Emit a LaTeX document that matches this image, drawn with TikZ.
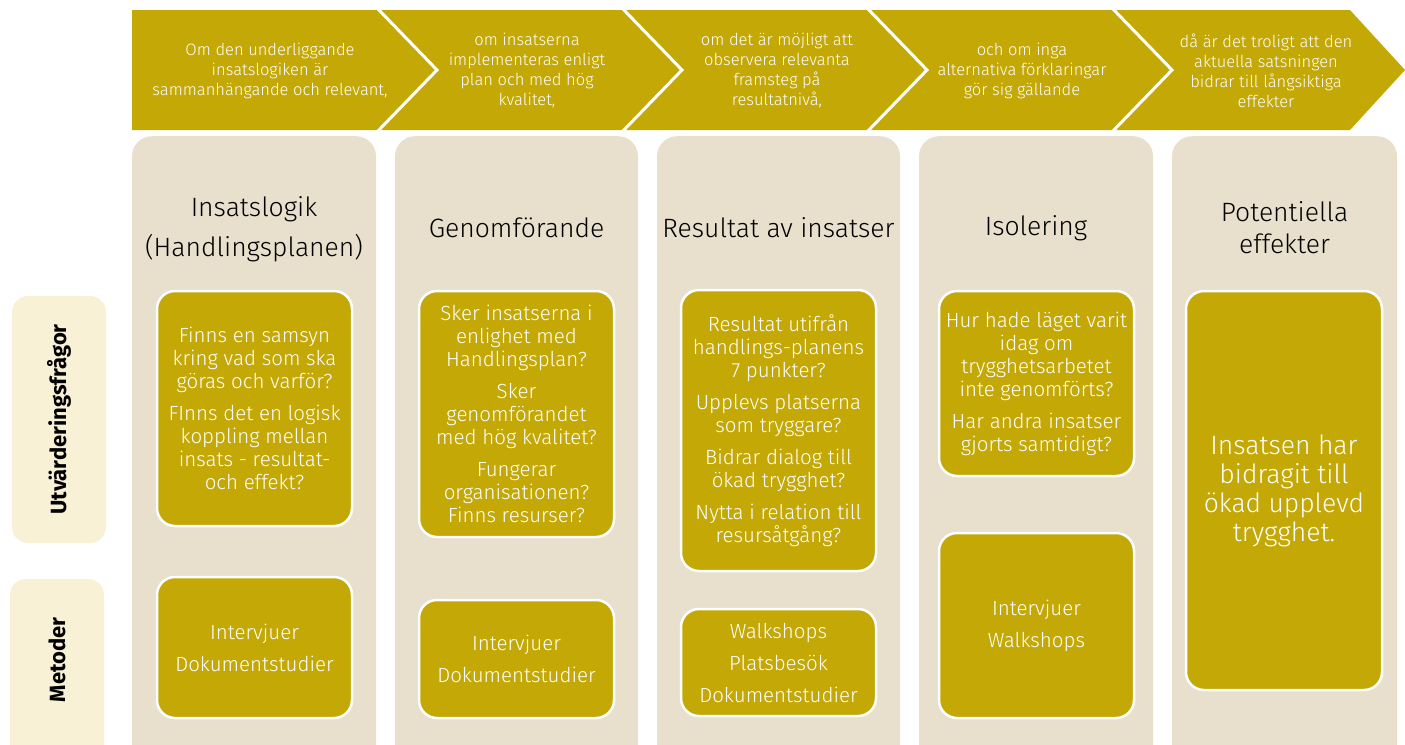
\documentclass[tikz,border=0pt]{standalone}
\usepackage{fontspec}
\setmainfont{Fira Sans Light}[BoldFont={Fira Sans Bold}]
\usetikzlibrary{positioning}
\definecolor{gold}{HTML}{C3A806}
\definecolor{sand}{HTML}{E8E0CD}
\definecolor{cream}{HTML}{F9F1D5}

\begin{document}
\begin{tikzpicture}[
        x=1pt, y=-1pt,
        column/.style={rectangle,fill=sand,rounded corners=20pt,anchor=north,minimum height=660pt,minimum width=#1},
        goldbox/.style={rectangle,fill=gold,draw=white,line width=2.5pt,rounded corners=18pt,minimum width=195pt,minimum height=#1,
            text=white,align=center,font=\fontsize{20.5}{23}\selectfont},
        rowlabel/.style={rectangle,fill=cream,rounded corners=16pt,minimum width=94pt,minimum height=#1},
        rowtext/.style={rotate=90,font=\bfseries\fontsize{22}{26}\selectfont},
        heading/.style={align=center,font=\fontsize{26.5}{32}\selectfont},
        condtext/.style={text=white,align=center,font=\fontsize{16.5}{20}\selectfont},
        ]
        \useasboundingbox (0,0) rectangle (1405,744);
        \clip (0,0) rectangle (1405,744);

        % arrow band on top
        \fill[gold] (132,10) -- (1350,10) -- (1405,70) -- (1350,130) -- (132,130) -- cycle;
        \foreach \i in {0,...,3}
            \draw[white,line width=3pt] (377+245*\i,8) -- (437+245*\i,70) -- (377+245*\i,132);

        \node[condtext](cond1) at (270,71){Om den underliggande\\insatslogiken är\\sammanhängande och relevant,};
        \node[condtext](cond2) at (527,71){om insatserna\\implementeras enligt\\plan och med hög\\kvalitet,};
        \node[condtext](cond3) at (777,71){om det är möjligt att\\observera relevanta\\framsteg på\\resultatnivå,};
        \node[condtext](cond4) at (1022,71){och om inga\\alternativa förklaringar\\gör sig gällande};
        \node[condtext](cond5) at (1266,71){då är det troligt att den\\aktuella satsningen\\bidrar till långsiktiga\\effekter};

        % columns
        \node[column=244pt](logik) at (254,136){};
        \node[column=243pt](genom) at (516.5,136){};
        \node[column=243pt](result) at (778.5,136){};
        \node[column=234pt](isol) at (1036,136){};
        \node[column=225pt](effekt) at (1284.5,136){};

        \node[heading](h_logik) at (254,229){Insatslogik\\[8pt](Handlingsplanen)};
        \node[heading](h_genom) at (516.5,228){Genomförande};
        \node[heading](h_result) at (778.5,228){Resultat av insatser};
        \node[heading](h_isol) at (1036,228){Isolering};
        \node[heading](h_effekt) at (1284.5,228){Potentiella\\effekter};

        % row labels
        \node[rowlabel=247pt](utv) at (59,419.5){};
        \node[rowtext] at (utv){Utvärderingsfrågor};
        \node[rowlabel=200pt](met) at (57,679){};
        \node[rowtext] at (57,660){Metoder};

        % questions
        \node[goldbox=235pt](q_logik) at (254.5,408.5){Finns en samsyn\\kring vad som ska\\göras och varför?\\[9pt]FInns det en logisk\\koppling mellan\\insats - resultat-\\och effekt?};
        \node[goldbox=246pt](q_genom) at (516.5,414){Sker insatserna i\\enlighet med\\Handlingsplan?\\[9pt]Sker\\genomförandet\\med hög kvalitet?\\[9pt]Fungerar\\organisationen?\\Finns resurser?};
        \node[goldbox=281pt](q_result) at (778.5,430.5){Resultat utifrån\\handlings-planens\\7 punkter?\\[9pt]Upplevs platserna\\som tryggare?\\[9pt]Bidrar dialog till\\ökad trygghet?\\[9pt]Nytta i relation till\\resursåtgång?};
        \node[goldbox=185pt](q_isol) at (1036.5,383.5){Hur hade läget varit\\idag om\\trygghetsarbetet\\inte genomförts?\\[9pt]Har andra insatser\\gjorts samtidigt?};
        \node[goldbox=399pt,minimum width=196pt,font=\fontsize{26.5}{29}\selectfont](q_effekt) at (1284,490.5){Insatsen har\\bidragit till\\ökad upplevd\\trygghet.};

        % methods
        \node[goldbox=141pt](m_logik) at (254.5,647.5){Intervjuer\\[9pt]Dokumentstudier};
        \node[goldbox=118pt](m_genom) at (516.5,659){Intervjuer\\[9pt]Dokumentstudier};
        \node[goldbox=107pt](m_result) at (778.5,662.5){Walkshops\\[9pt]Platsbesök\\[9pt]Dokumentstudier};
        \node[goldbox=185pt](m_isol) at (1036.5,625.5){Intervjuer\\[9pt]Walkshops};

\end{tikzpicture}
\end{document}
